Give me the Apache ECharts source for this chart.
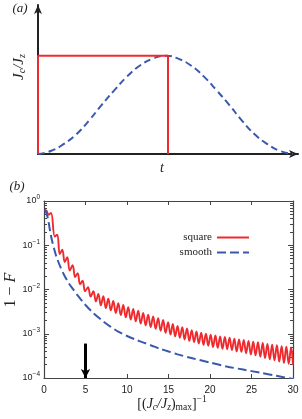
<!DOCTYPE html>
<html><head><meta charset="utf-8">
<script src="https://cdn.jsdelivr.net/npm/echarts@6/dist/echarts.min.js"></script>
<style>html,body{margin:0;padding:0;background:#fff}#c{width:302px;height:419px}</style>
</head><body><div id="c"></div><script>
// ---- panel (a): pulse shapes ----
const pulseT = [0, 0, 0.51, 0.51];
const pulseJ = [0, 1, 1, 0];
const smoothPulseT = [0,0.05,0.1,0.15,0.2,0.25,0.3,0.35,0.4,0.45,0.5,0.55,0.6,0.65,0.7,0.75,0.8,0.85,0.9,0.95,1.0];
const smoothPulseJ = [0,0.03,0.1,0.2,0.34,0.5,0.65,0.79,0.9,0.97,1.0,0.97,0.9,0.79,0.65,0.5,0.34,0.2,0.1,0.03,0];

// ---- panel (b): infidelity ----
const squareX = [0.1,0.3,0.55,0.85,1.3,1.6,1.9,2.2,2.5,2.8,3.1,3.45,3.75,4.05,4.35,4.65,4.95,5.3,5.62,5.95,6.25,
6.55,6.85,7.15,7.45,7.75,8.05,8.35,8.65,8.95,9.25,9.55,9.85,10.15,10.45,10.75,11.05,11.35,11.65,11.95,12.25,12.55,12.85,13.15,13.45,13.75,14.05,14.35,14.65,14.95,
15.24,15.52,15.8,16.09,16.37,16.66,16.94,17.23,17.51,17.8,18.08,18.37,18.65,18.94,19.22,19.51,19.79,20.08,20.36,20.65,20.93,21.22,21.5,21.79,22.07,22.36,22.64,22.93,23.21,23.5,23.78,24.07,24.35,24.64,24.92,25.21,25.49,25.78,26.06,26.35,26.63,26.92,27.2,27.49,27.77,28.06,28.34,28.63,28.91,29.2,29.48,29.77,30.0];
const squareY = [0.617,0.603,0.490,0.537,0.158,0.174,0.0631,0.0794,0.0417,0.0537,0.0269,0.0355,0.0191,0.0234,0.0132,0.0158,0.00912,0.0112,0.00692,0.00912,0.00537,
0.00794,0.00437,0.00708,0.00380,0.00617,0.00339,0.00550,0.00295,0.00490,0.00263,0.00447,0.00234,0.00398,0.00209,0.00363,0.00191,0.00331,0.00170,0.00295,0.00155,0.00269,0.00141,0.00245,0.00129,0.00224,0.00117,0.00204,0.00105,0.00182,
0.000955,0.00166,0.000871,0.00151,0.000813,0.00141,0.000741,0.00132,0.000692,0.00120,0.000646,0.00112,0.000603,0.00105,0.000562,0.00100,0.000537,0.000955,0.000501,0.000912,0.000479,0.000871,0.000457,0.000851,0.000447,0.000813,0.000427,0.000776,0.000398,0.000741,0.000389,0.000724,0.000363,0.000692,0.000339,0.000661,0.000324,0.000646,0.000302,0.000617,0.000282,0.000589,0.000263,0.000562,0.000251,0.000550,0.000234,0.000525,0.000219,0.000513,0.000209,0.000490,0.000200];
const smoothX = [0.1,0.25,0.5,0.75,1.0,1.25,1.5,2.0,2.5,3.0,3.5,4.0,5,6,7,8,9,10,11,12,13,14,15,16,18,20,22,24,26,28,30];
const smoothY = [0.631,0.562,0.380,0.200,0.120,0.0794,0.0550,0.0316,0.0200,0.0138,0.0102,0.00759,0.00447,0.00288,0.00200,0.00145,0.00110,0.000891,0.000741,0.000631,0.000537,0.000457,0.000398,0.000347,0.000275,0.000224,0.000182,0.000155,0.000132,0.000112,0.0000955];
const arrowX = 5;
const arrowFrom = 6e-4;
const arrowTo = 1e-4;

const xTicksB = [0, 5, 10, 15, 20, 25, 30];
const yMajor = [1e-4, 1e-3, 1e-2, 1e-1, 1];
const yMinorMult = [2,3,4,5,6,7,8,9];
const yDecades = [1e-4, 1e-3, 1e-2, 1e-1];

const zip = (a, b) => a.map((v, i) => [v, b[i]]);
const yMinor = [];
yDecades.forEach(d => yMinorMult.forEach(m => yMinor.push(+(d * m).toPrecision(3))));

const SERIF = 'Liberation Serif';
const SANS = 'Liberation Sans';
const AX = '#444';
const RED = '#ee2a2e';
const BLUE = '#3a58ad';

const chart = echarts.init(document.getElementById('c'), null, {renderer: 'canvas'});

const noLabel = {show: false};
const frameAxisLine = {show: true, lineStyle: {color: AX, width: 1.2}};

function expLabel(v) {
  const e = Math.round(Math.log10(v));
  return '{b|10}{e|' + (e < 0 ? '\u2212' + (-e) : e) + '}';
}

const legendBase = {padding: 0, align: 'right', itemWidth: 32, itemHeight: 10, itemGap: 4,
  itemStyle: {opacity: 0, borderWidth: 0},
  textStyle: {fontFamily: SERIF, fontSize: 11, color: '#222'}};

const option = {
  animation: false,
  backgroundColor: '#fff',
  grid: [
    {left: 38, top: 5, width: 260, height: 149},
    {left: 44, top: 201, width: 249, height: 177}
  ],
  xAxis: [
    {type: 'value', gridIndex: 0, min: 0, max: 1.02,
     axisLine: {show: true, lineStyle: {color: '#222', width: 2}, symbol: ['none', 'arrow'], symbolSize: [6, 9]},
     axisTick: {show: false}, axisLabel: noLabel, splitLine: {show: false}},
    {type: 'value', gridIndex: 1, min: 0, max: 30, interval: 5, position: 'bottom',
     axisLine: frameAxisLine,
     axisTick: {show: true, inside: true, length: 4, lineStyle: {color: AX}, customValues: xTicksB},
     axisLabel: {show: true, margin: 7, fontSize: 10, fontFamily: SANS, color: '#222', customValues: xTicksB},
     splitLine: {show: false}},
    {type: 'value', gridIndex: 1, min: 0, max: 30, interval: 5, position: 'top',
     axisLine: frameAxisLine,
     axisTick: {show: true, inside: true, length: 4, lineStyle: {color: AX}},
     axisLabel: noLabel, splitLine: {show: false}}
  ],
  yAxis: [
    {type: 'value', gridIndex: 0, min: 0, max: 1.516,
     axisLine: {show: true, lineStyle: {color: '#222', width: 2}, symbol: ['none', 'arrow'], symbolSize: [6, 9]},
     axisTick: {show: false}, axisLabel: noLabel, splitLine: {show: false}},
    {type: 'log', logBase: 10, gridIndex: 1, min: 1e-4, max: 1, position: 'left',
     axisLine: frameAxisLine,
     axisTick: {show: true, inside: true, length: 5, lineStyle: {color: AX}, customValues: yMajor},
     axisLabel: {show: true, margin: 4, formatter: expLabel, customValues: yMajor,
       rich: {b: {fontSize: 9, fontFamily: SANS, color: '#222'},
              e: {fontSize: 6.5, fontFamily: SANS, color: '#222', padding: [0, 0, 7, 0]}}},
     splitLine: {show: false}},
    {type: 'log', logBase: 10, gridIndex: 1, min: 1e-4, max: 1, position: 'left',
     axisLine: {show: false},
     axisTick: {show: true, inside: true, length: 3, lineStyle: {color: AX}, customValues: yMinor},
     axisLabel: noLabel, splitLine: {show: false}},
    {type: 'log', logBase: 10, gridIndex: 1, min: 1e-4, max: 1, position: 'right',
     axisLine: frameAxisLine,
     axisTick: {show: true, inside: true, length: 5, lineStyle: {color: AX}, customValues: yMajor},
     axisLabel: noLabel, splitLine: {show: false}},
    {type: 'log', logBase: 10, gridIndex: 1, min: 1e-4, max: 1, position: 'right',
     axisLine: {show: false},
     axisTick: {show: true, inside: true, length: 3, lineStyle: {color: AX}, customValues: yMinor},
     axisLabel: noLabel, splitLine: {show: false}}
  ],
  legend: [
    Object.assign({data: ['square'], right: 52, top: 232}, legendBase),
    Object.assign({data: ['smooth'], right: 52, top: 247}, legendBase)
  ],
  series: [
    {name: 'pulseSmooth', type: 'line', xAxisIndex: 0, yAxisIndex: 0, data: zip(smoothPulseT, smoothPulseJ),
     smooth: true, symbol: 'none', lineStyle: {color: BLUE, width: 2, type: [7, 4]}, silent: true},
    {name: 'pulseSquare', type: 'line', xAxisIndex: 0, yAxisIndex: 0, data: zip(pulseT, pulseJ),
     symbol: 'none', lineStyle: {color: RED, width: 2}, silent: true},
    {name: 'square', type: 'line', xAxisIndex: 1, yAxisIndex: 1, data: zip(squareX, squareY),
     smooth: 0.4, symbol: 'none', lineStyle: {color: RED, width: 1.9}, itemStyle: {color: RED}},
    {name: 'smooth', type: 'line', xAxisIndex: 1, yAxisIndex: 1, data: zip(smoothX, smoothY),
     smooth: 0.3, symbol: 'none', lineStyle: {color: BLUE, width: 2, type: [9, 4]}, itemStyle: {color: BLUE},
     markLine: {silent: true, symbol: ['none', 'arrow'], symbolSize: [7, 9], label: {show: false},
       lineStyle: {color: '#000', width: 3, type: 'solid'},
       emphasis: {disabled: true},
       data: [[{coord: [arrowX, arrowFrom]}, {coord: [arrowX, arrowTo]}]]}}
  ],
  graphic: [
    {type: 'text', x: 20, y: 9, style: {text: '(a)', font: 'italic 13px "Liberation Serif"', fill: '#222', align: 'center', verticalAlign: 'middle'}},
    {type: 'text', x: 17, y: 187, style: {text: '(b)', font: 'italic 13px "Liberation Serif"', fill: '#222', align: 'center', verticalAlign: 'middle'}},
    {type: 'text', x: 19, y: 67, rotation: Math.PI / 2,
     style: {text: '{i|J}{s|c}{i|/J}{s|z}', align: 'center', verticalAlign: 'middle',
       rich: {i: {fontFamily: SERIF, fontStyle: 'italic', fontSize: 15, fill: '#222'},
              s: {fontFamily: SERIF, fontStyle: 'italic', fontSize: 10, fill: '#222', padding: [7, 0, 0, 0]}}}},
    {type: 'text', x: 162, y: 168, style: {text: 't', font: 'italic 14px "Liberation Serif"', fill: '#222', align: 'center', verticalAlign: 'middle'}},
    {type: 'text', x: 11, y: 290, rotation: Math.PI / 2,
     style: {text: '{n|1 \u2212 }{i|F}', align: 'center', verticalAlign: 'middle',
       rich: {n: {fontFamily: SERIF, fontSize: 16, fill: '#222'},
              i: {fontFamily: SERIF, fontStyle: 'italic', fontSize: 16, fill: '#222'}}}},
    {type: 'text', x: 172, y: 404,
     style: {text: '{n|[(}{i|J}{s|c}{i|/J}{s|z}{n|)}{m|max}{n|]}{u|\u22121}', align: 'center', verticalAlign: 'middle',
       rich: {i: {fontFamily: SERIF, fontStyle: 'italic', fontSize: 14, fill: '#222'},
              n: {fontFamily: SERIF, fontSize: 14, fill: '#222'},
              s: {fontFamily: SERIF, fontStyle: 'italic', fontSize: 9.5, fill: '#222', padding: [7, 0, 0, 0]},
              m: {fontFamily: SERIF, fontSize: 9.5, fill: '#222', padding: [7, 0, 0, 0]},
              u: {fontFamily: SERIF, fontSize: 9.5, fill: '#222', padding: [0, 0, 9, 0]}}}}
  ]
};
chart.setOption(option);
</script></body></html>
